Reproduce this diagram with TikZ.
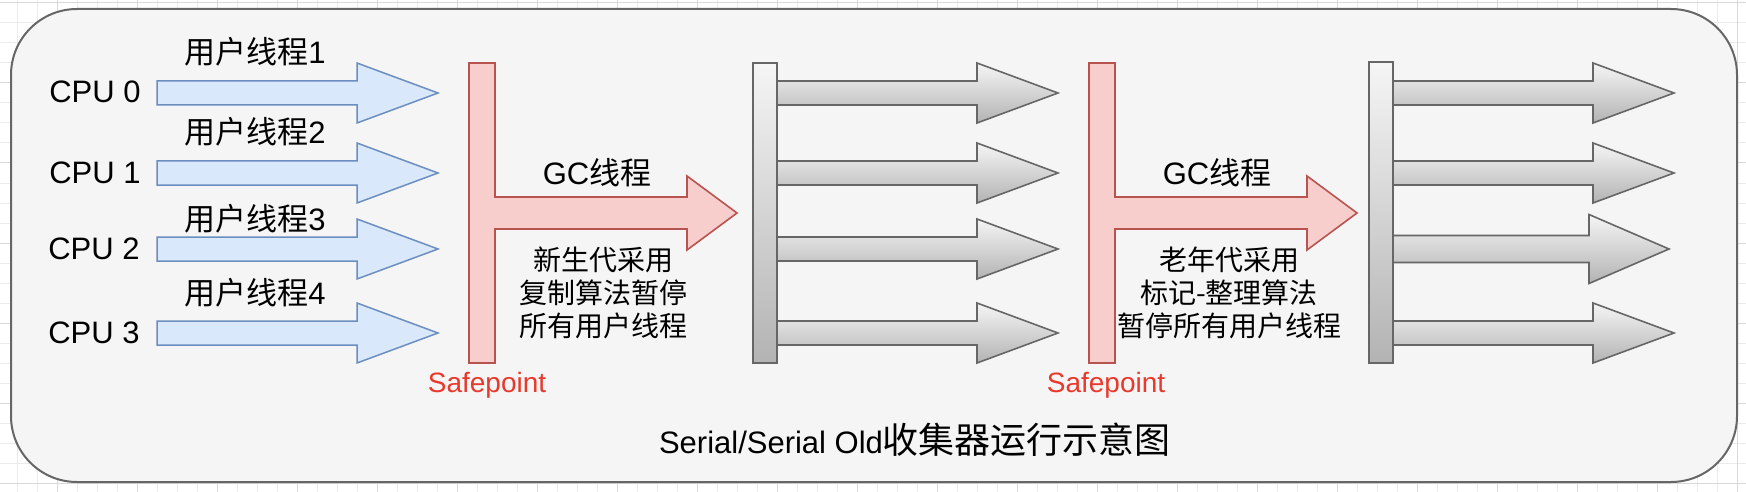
\documentclass[tikz,border=0pt]{standalone}
\usepackage{fontspec}
\setmainfont{Liberation Sans}
\newfontfamily\cjk{Noto Sans CJK SC}
\definecolor{bluefill}{HTML}{DAE8FC}
\definecolor{bluedraw}{HTML}{6C8EBF}
\definecolor{redfill}{HTML}{F8CECC}
\definecolor{reddraw}{HTML}{B85450}
\definecolor{graydraw}{HTML}{666666}
\definecolor{graytop}{HTML}{F5F5F5}
\definecolor{graybot}{HTML}{B3B3B3}
\definecolor{panelfill}{HTML}{F5F5F5}
\definecolor{safered}{HTML}{E8392C}
\definecolor{gridminor}{HTML}{EBEBEB}
\definecolor{gridmajor}{HTML}{D9D9D9}
% style, x start, x head base, x tip, y centre, half body, half head
\newcommand\blkarrow[7]{\path[#1] (#2,#5-#6) -- (#3,#5-#6) -- (#3,#5-#7) -- (#4,#5) -- (#3,#5+#7) -- (#3,#5+#6) -- (#2,#5+#6) -- cycle;}
% style, bar left, bar right, head base, tip
\newcommand\redtee[5]{\path[#1] (#2,63) -- (#3,63) -- (#3,197) -- (#4,197) -- (#4,176) -- (#5,213) -- (#4,250) -- (#4,229) -- (#3,229) -- (#3,363) -- (#2,363) -- cycle;}
\begin{document}
\begin{tikzpicture}[x=1pt,y=-1pt,
  bluearrow/.style={draw=bluedraw,fill=bluefill,line width=1.5pt,line join=miter},
  redshape/.style={draw=reddraw,fill=redfill,line width=1.6pt,line join=miter},
  grayshape/.style={draw=graydraw,line width=1.6pt,line join=miter,top color=graytop,bottom color=graybot},
  lbl/.style={inner sep=0pt,anchor=base,font=\fontsize{31}{36}\selectfont},
  bodytext/.style={inner sep=0pt,align=center,font=\cjk\fontsize{28}{33}\selectfont},
  safelbl/.style={inner sep=0pt,anchor=base,text=safered,font=\fontsize{28}{32}\selectfont}]
\useasboundingbox (0,0) rectangle (1746,492);
\fill[white] (0,0) rectangle (1746,492);
% background grid
\foreach \x in {-3,17,...,1745} \draw[gridminor,line width=1pt] (\x,0) -- (\x,492);
\foreach \y in {3,23,...,491} \draw[gridminor,line width=1pt] (0,\y) -- (1746,\y);
\foreach \x in {57,137,...,1745} \draw[gridmajor,line width=1pt] (\x,0) -- (\x,492);
\foreach \y in {3,83,...,491} \draw[gridmajor,line width=1pt] (0,\y) -- (1746,\y);
% panel
\path[draw=graydraw,fill=panelfill,line width=2pt,rounded corners=66pt] (11,9) rectangle (1737,482);
% CPU labels
\node[lbl] (cpu0) at (95,103) {CPU 0};
\node[lbl] (cpu1) at (95,183) {CPU 1};
\node[lbl] (cpu2) at (94,259) {CPU 2};
\node[lbl] (cpu3) at (94,343) {CPU 3};
% user thread arrows
\blkarrow{bluearrow}{157}{357}{438}{93}{12}{30}
\blkarrow{bluearrow}{157}{357}{438}{173}{12}{30}
\blkarrow{bluearrow}{157}{357}{438}{249}{12}{30}
\blkarrow{bluearrow}{157}{357}{438}{333}{12}{30}
\node[lbl] (ut1) at (255,64) {{\cjk 用户线程}1};
\node[lbl] (ut2) at (255,144) {{\cjk 用户线程}2};
\node[lbl] (ut3) at (255,230) {{\cjk 用户线程}3};
\node[lbl] (ut4) at (255,304) {{\cjk 用户线程}4};
% first safepoint and GC thread
\redtee{redshape}{469}{495}{687}{737}
\node[lbl] (gc1) at (597,184) {GC{\cjk 线程}};
\node[bodytext] (desc1) at (603,293) {新生代采用\\复制算法暂停\\所有用户线程};
\node[safelbl] (sp1) at (487,392) {Safepoint};
% first resumed user threads
\blkarrow{grayshape}{777}{977}{1058}{93}{12}{30}
\blkarrow{grayshape}{777}{977}{1058}{173}{12}{30}
\blkarrow{grayshape}{777}{977}{1058}{249}{12}{30}
\blkarrow{grayshape}{777}{977}{1058}{333}{12}{30}
\path[grayshape] (753,63) rectangle (777,363);
% second safepoint and GC thread
\redtee{redshape}{1089}{1115}{1307}{1357}
\node[lbl] (gc2) at (1217,184) {GC{\cjk 线程}};
\node[bodytext] (desc2) at (1229,293) {老年代采用\\标记-整理算法\\暂停所有用户线程};
\node[safelbl] (sp2) at (1106,392) {Safepoint};
% second resumed user threads
\blkarrow{grayshape}{1393}{1593}{1674}{93}{12}{30}
\blkarrow{grayshape}{1393}{1593}{1674}{173}{12}{30}
\blkarrow{grayshape}{1393}{1589}{1669}{249}{13.5}{34.5}
\blkarrow{grayshape}{1393}{1593}{1674}{333}{12}{30}
\path[grayshape] (1369,62) rectangle (1393,363);
% title
\node[inner sep=0pt,anchor=base,font=\fontsize{31}{36}\selectfont] (title) at (915,453) {Serial/Serial Old{\cjk\fontsize{36}{40}\selectfont 收集器运行示意图}};
\end{tikzpicture}
\end{document}
